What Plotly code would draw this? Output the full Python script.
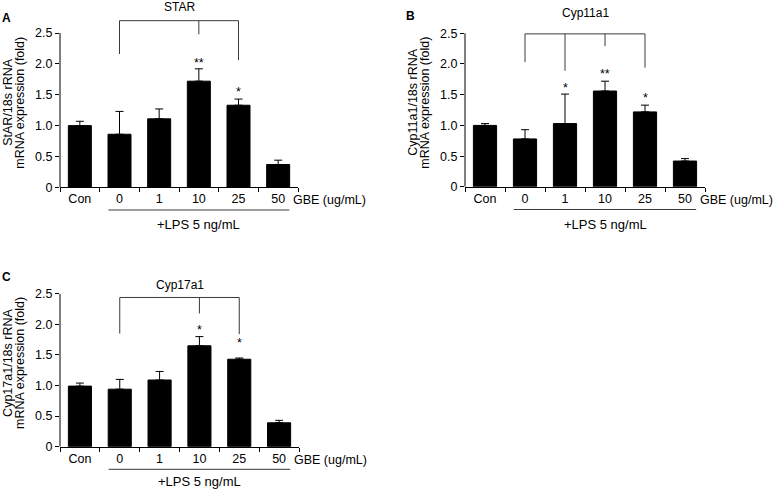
import plotly.graph_objects as go

W, H = 776, 498

categories = ["Con", "0", "1", "10", "25", "50"]

star_mean = [1.00, 0.86, 1.11, 1.72, 1.33, 0.37]
star_top = [1.07, 1.23, 1.27, 1.92, 1.43, 0.44]
cyp11a1_mean = [1.00, 0.78, 1.03, 1.56, 1.22, 0.42]
cyp11a1_top = [1.03, 0.93, 1.51, 1.72, 1.33, 0.46]
cyp17a1_mean = [0.99, 0.94, 1.09, 1.65, 1.43, 0.39]
cyp17a1_top = [1.04, 1.10, 1.23, 1.80, 1.45, 0.43]

y_ticks = [0, 0.5, 1.0, 1.5, 2.0, 2.5]
y_tick_text = ["0", "0.5", "1.0", "1.5", "2.0", "2.5"]

# significance marks: (category index, text, y of glyph)
star_marks = [(3, "**", 2.05), (4, "*", 1.59)]
cyp11a1_marks = [(2, "*", 1.65), (3, "**", 1.88), (4, "*", 1.48)]
cyp17a1_marks = [(3, "*", 1.95), (4, "*", 1.73)]

# comparison brackets: top line height, drops (index, lower end)
star_bracket = (2.70, [(1, 2.16), (3, 2.48), (4, 2.06)])
cyp11a1_bracket = (2.49, [(1, 2.03), (2, 1.89), (3, 2.29), (4, 1.94)])
cyp17a1_bracket = (2.44, [(1, 1.85), (3, 2.18), (4, 1.84)])

FONT = "Arial, Liberation Sans, sans-serif"
YMAX = 2.8


def px_x(v):
    return v / W


def px_y(v):
    return 1 - v / H


panels = [
    dict(mean=star_mean, top=star_top, marks=star_marks, bracket=star_bracket,
         title="STAR", ytitle=["StAR/18s rRNA", "mRNA expression (fold)"],
         letter="A", letter_xy=(6, 18), title_y=7,
         x0=60, x1=298, zero=190, unit=62.6),
    dict(mean=cyp11a1_mean, top=cyp11a1_top, marks=cyp11a1_marks, bracket=cyp11a1_bracket,
         title="Cyp11a1", ytitle=["Cyp11a1/18s rRNA", "mRNA expression (fold)"],
         letter="B", letter_xy=(410, 16), title_y=13,
         x0=465, x1=705, zero=189.5, unit=62.3),
    dict(mean=cyp17a1_mean, top=cyp17a1_top, marks=cyp17a1_marks, bracket=cyp17a1_bracket,
         title="Cyp17a1", ytitle=["Cyp17a1/18s rRNA", "mRNA expression (fold)"],
         letter="C", letter_xy=(6, 280.5), title_y=289,
         x0=60, x1=299, zero=453, unit=62.0),
]

fig = go.Figure()
shapes = []
annotations = []
line_col = "#3a3a3a"

for i, p in enumerate(panels, start=1):
    sfx = "" if i == 1 else str(i)
    xr, yr = "x" + sfx, "y" + sfx
    err = [round(t - m, 3) for t, m in zip(p["top"], p["mean"])]

    fig.add_trace(go.Bar(
        x=categories, y=p["mean"], xaxis=xr, yaxis=yr, width=0.58,
        marker=dict(color="black", line=dict(color="black", width=1)),
        error_y=dict(type="data", symmetric=False, array=err, arrayminus=[0] * 6,
                     color="black", thickness=1, width=4),
        showlegend=False,
    ))

    top_px = p["zero"] - YMAX * p["unit"]
    fig.layout["xaxis" + sfx] = dict(
        domain=[px_x(p["x0"]), px_x(p["x1"])], anchor=yr, type="category",
        range=[-0.5, 5.5], tickson="boundaries", ticks="outside", ticklen=4,
        tickcolor="black", showline=True, linecolor="black", linewidth=1,
        showgrid=False, zeroline=False, tickfont=dict(size=12.5, color="black"),
        fixedrange=True,
    )
    fig.layout["yaxis" + sfx] = dict(
        domain=[px_y(p["zero"]), px_y(top_px)], anchor=xr, range=[0, YMAX],
        tickvals=y_ticks, ticktext=y_tick_text, ticks="outside", ticklen=4,
        tickcolor="black", showline=False, showgrid=False, zeroline=False,
        tickfont=dict(size=12.5, color="black"), fixedrange=True,
    )

    # y axis line stops at 2.5
    shapes.append(dict(type="line", xref=xr + " domain", yref=yr, x0=0, x1=0,
                       y0=0, y1=2.5, line=dict(color="black", width=1)))

    # bracket
    btop, drops = p["bracket"]
    first, last = drops[0][0], drops[-1][0]
    shapes.append(dict(type="line", xref=xr, yref=yr, x0=first, x1=last,
                       y0=btop, y1=btop, line=dict(color=line_col, width=1)))
    for idx, low in drops:
        shapes.append(dict(type="line", xref=xr, yref=yr, x0=idx, x1=idx,
                           y0=btop, y1=low, line=dict(color=line_col, width=1)))

    # LPS underline and label
    shapes.append(dict(type="line", xref=xr, yref="paper", x0=0.72, x1=5.28,
                       y0=px_y(p["zero"] + 23), y1=px_y(p["zero"] + 23),
                       line=dict(color=line_col, width=1)))
    annotations.append(dict(xref=xr, yref="paper", x=3.0,
                            y=px_y(min(p["zero"] + 38, 488.5)),
                            text="+LPS 5 ng/mL", showarrow=False, xanchor="center",
                            yanchor="middle", font=dict(size=13)))
    annotations.append(dict(xref="paper", yref=yr, x=px_x(p["x1"] + 70), y=0,
                            yshift=-13, text="GBE (ug/mL)", showarrow=False,
                            xanchor="right", yanchor="middle", font=dict(size=12.5)))

    # significance stars
    for idx, txt, yv in p["marks"]:
        annotations.append(dict(xref=xr, yref=yr, x=idx, y=yv - 0.04, text=txt,
                                showarrow=False, xanchor="center", yanchor="middle",
                                font=dict(size=12.5)))

    # titles and labels
    annotations.append(dict(xref="paper", yref="paper",
                            x=px_x((p["x0"] + p["x1"]) / 2), y=px_y(p["title_y"]),
                            text=p["title"], showarrow=False, xanchor="center",
                            yanchor="middle", font=dict(size=12)))
    annotations.append(dict(xref="paper", yref="paper", x=px_x(p["letter_xy"][0]),
                            y=px_y(p["letter_xy"][1]), text="<b>" + p["letter"] + "</b>",
                            showarrow=False, xanchor="center", yanchor="middle",
                            font=dict(size=12)))
    for off, line in zip([52, 40], p["ytitle"]):
        annotations.append(dict(xref="paper", yref=yr, x=px_x(p["x0"] - off), y=1.37,
                                text=line, textangle=-90, showarrow=False,
                                xanchor="center", yanchor="middle", font=dict(size=12.5)))

fig.update_layout(
    width=W, height=H, margin=dict(l=0, r=0, t=0, b=0),
    paper_bgcolor="white", plot_bgcolor="white",
    font=dict(family=FONT, color="black", size=12),
    shapes=shapes, annotations=annotations,
)

# page body has a default 8px margin; drop it so the figure fills the window
fig.write_html("out.html", config={"displayModeBar": False},
               post_script="document.body.style.margin = '0px';")
